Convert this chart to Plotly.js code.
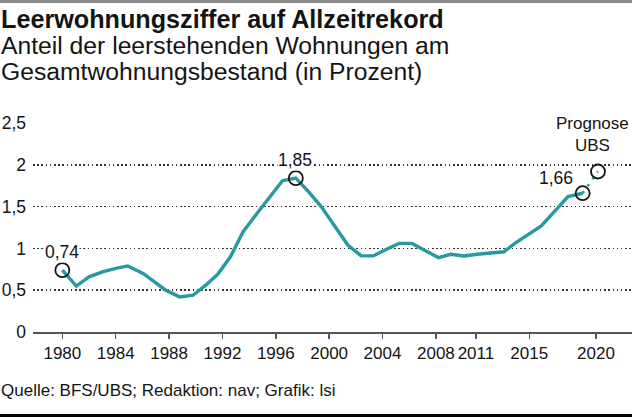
<!DOCTYPE html>
<html>
<head>
<meta charset="utf-8">
<script src="https://cdn.plot.ly/plotly-3.0.1.min.js"></script>
<style>
  html, body { margin: 0; padding: 0; background: #fff; }
  #chart { width: 632px; height: 417px; }
</style>
</head>
<body>
<div id="chart"></div>
<script>
// ---- data ----
const years = [1980, 1981.05, 1982, 1983, 1984, 1984.9, 1986.05, 1986.9, 1987.75, 1988.8,
  1989.8, 1990.75, 1991.65, 1992.6, 1993.55, 1994.6, 1995.65, 1996.5, 1997.5, 1998.5,
  1999.4, 2000.4, 2001.4, 2002.4, 2003.3, 2004.3, 2005.25, 2006.2, 2007.2, 2008.2,
  2009.1, 2010.1, 2011.1, 2012.1, 2013.1, 2014, 2015, 2015.9, 2017, 2017.9, 2019];
const rates = [0.74, 0.55, 0.66, 0.72, 0.76, 0.79, 0.70, 0.60, 0.50, 0.42,
  0.44, 0.56, 0.69, 0.90, 1.20, 1.42, 1.64, 1.81, 1.84, 1.67,
  1.50, 1.27, 1.04, 0.91, 0.91, 0.99, 1.06, 1.06, 0.97, 0.89,
  0.93, 0.91, 0.93, 0.94, 0.96, 1.07, 1.17, 1.27, 1.46, 1.62, 1.66];
const forecastYears = [2019, 2020.15];
const forecastRates = [1.66, 1.92];
const markedYears = [1980, 1997.5, 2019, 2020.15];
const markedRates = [0.74, 1.84, 1.66, 1.92];
const markedLabels = ['0,74', '1,85', '1,66', 'Prognose<br>UBS'];
const xTickYears = [1980, 1984, 1988, 1992, 1996, 2000, 2004, 2008, 2011, 2015, 2020];
const xTickLabels = ['1980', '1984', '1988', '1992', '1996', '2000', '2004', '2008', '2011', '2015', '2020'];
const yTickValues = [0, 0.5, 1, 1.5, 2, 2.5];

const titleText = 'Leerwohnungsziffer auf Allzeitrekord';
const subtitleLines = ['Anteil der leerstehenden Wohnungen am', 'Gesamtwohnungsbestand (in Prozent)'];
const sourceText = 'Quelle: BFS/UBS; Redaktion: nav; Grafik: lsi';

// ---- layout helpers ----
const W = 632, H = 417;
const M = { l: 33, r: 0, t: 123, b: 85 };
const PW = W - M.l - M.r, PH = H - M.t - M.b;
const px = x => (x - M.l) / PW;
const py = y => (H - M.b - y) / PH;

const FONT = '"Liberation Sans", Arial, Helvetica, sans-serif';
const TEAL = '#2899a0';
const INK = '#141414';

const traces = [
  {
    x: years, y: rates, type: 'scatter', mode: 'lines',
    line: { color: TEAL, width: 3.4 }, hoverinfo: 'skip', cliponaxis: false
  },
  {
    x: forecastYears, y: forecastRates, type: 'scatter', mode: 'lines',
    line: { color: TEAL, width: 2.6, dash: '2.5px,6px' }, hoverinfo: 'skip', cliponaxis: false
  },
  {
    x: markedYears, y: markedRates, type: 'scatter', mode: 'markers',
    marker: { symbol: 'circle-open', size: 14, color: INK, line: { width: 1.8, color: INK } },
    hoverinfo: 'skip', cliponaxis: false
  }
];

const numFont = { family: FONT, size: 17.5, color: INK };
const tickFont = { family: FONT, size: 17, color: INK };
const labelFont = { family: FONT, size: 17, color: INK };
const annotations = [
  { x: markedYears[0], y: markedRates[0], xref: 'x', yref: 'y', text: markedLabels[0], showarrow: false,
    xanchor: 'center', yanchor: 'middle', yshift: 18, font: numFont, bgcolor: '#fff', borderpad: 0 },
  { x: markedYears[1], y: markedRates[1], xref: 'x', yref: 'y', text: markedLabels[1], showarrow: false,
    xanchor: 'center', yanchor: 'middle', xshift: -1, yshift: 18, font: numFont, bgcolor: '#fff', borderpad: 0 },
  { x: markedYears[2], y: markedRates[2], xref: 'x', yref: 'y', text: markedLabels[2], showarrow: false,
    xanchor: 'right', yanchor: 'middle', xshift: -9, yshift: 15, font: numFont, borderpad: 0 },
  { x: markedYears[3], y: markedRates[3], xref: 'x', yref: 'y', text: markedLabels[3], showarrow: false,
    xanchor: 'center', yanchor: 'middle', xshift: -5, yshift: 37, font: labelFont, bgcolor: '#fff', borderpad: 0, align: 'center' },
  { x: px(0), y: py(19), xref: 'paper', yref: 'paper', text: '<b>' + titleText + '</b>', showarrow: false,
    xanchor: 'left', yanchor: 'middle', font: { family: FONT, size: 25.2, color: INK }, borderpad: 0 },
  { x: px(0), y: py(45), xref: 'paper', yref: 'paper', text: subtitleLines[0], showarrow: false,
    xanchor: 'left', yanchor: 'middle', font: { family: FONT, size: 24.7, color: INK }, borderpad: 0 },
  { x: px(0), y: py(72), xref: 'paper', yref: 'paper', text: subtitleLines[1], showarrow: false,
    xanchor: 'left', yanchor: 'middle', font: { family: FONT, size: 24.7, color: INK }, borderpad: 0 },
  { x: px(0), y: py(390), xref: 'paper', yref: 'paper', text: sourceText, showarrow: false,
    xanchor: 'left', yanchor: 'middle', font: { family: FONT, size: 17, color: INK }, borderpad: 0 }
];

const shapes = [
  { type: 'rect', xref: 'paper', yref: 'paper', x0: px(0), x1: px(W), y0: py(0), y1: py(3),
    fillcolor: '#8c8c8c', line: { width: 0 }, layer: 'above' },
  { type: 'rect', xref: 'paper', yref: 'paper', x0: px(0), x1: px(W), y0: py(414), y1: py(417),
    fillcolor: '#000', line: { width: 0 }, layer: 'above' }
];

const layout = {
  width: W, height: H,
  margin: M,
  paper_bgcolor: '#fff', plot_bgcolor: '#fff',
  showlegend: false,
  separators: ', ',
  font: { family: FONT, size: 17, color: INK },
  xaxis: {
    range: [1977.8, 2022.7], fixedrange: true,
    tickmode: 'array', tickvals: xTickYears, ticktext: xTickLabels,
    tickangle: 0,
    ticks: 'outside', ticklen: 5, tickwidth: 1.5, tickcolor: '#555',
    showline: true, linecolor: '#555', linewidth: 1.5,
    showgrid: false, zeroline: false,
    tickfont: tickFont,
    ticklabelstandoff: 0
  },
  yaxis: {
    range: [0, 2.5], fixedrange: true,
    tickmode: 'array', tickvals: yTickValues,
    ticks: '', showline: false, zeroline: false,
    showgrid: true, gridcolor: '#333', gridwidth: 1.5, griddash: '1.5px,2.7px',
    tickfont: numFont,
    ticklabelstandoff: 6
  },
  annotations: annotations,
  shapes: shapes
};

Plotly.newPlot('chart', traces, layout, { staticPlot: true, displayModeBar: false });
</script>
</body>
</html>
